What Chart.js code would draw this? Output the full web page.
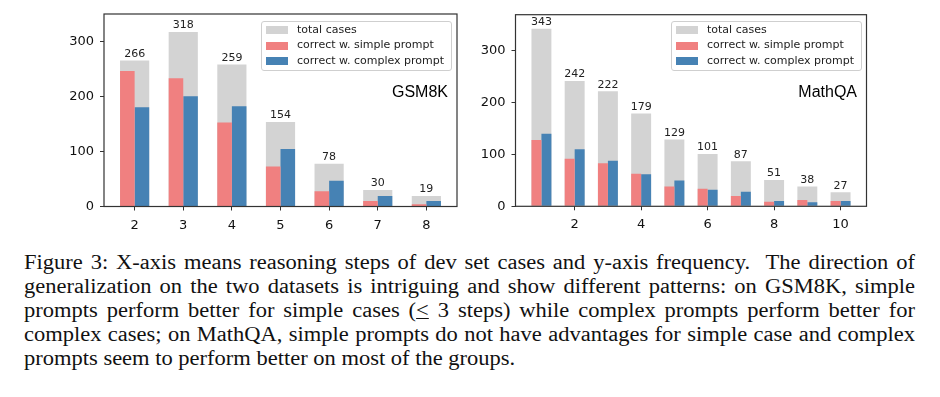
<!DOCTYPE html>
<html>
<head>
<meta charset="utf-8">
<script src="https://cdn.jsdelivr.net/npm/chart.js@4.4.1/dist/chart.umd.min.js"></script>
<style>
  html, body { margin: 0; padding: 0; background: #fff; }
  body { width: 940px; height: 397px; position: relative; overflow: hidden; }
  canvas { position: absolute; top: 0; }
  .tag { position: absolute; font-family: "Liberation Sans", Arial, sans-serif; font-size: 16px; line-height: 16px; color: #000; text-align: right; width: 120px; }
  .legend { position: absolute; border: 1px solid #cfcfcf; border-radius: 3px; background: rgba(255,255,255,0.85); box-sizing: border-box; }
  .legend .sw { position: absolute; width: 22px; height: 8px; }
  .legend .lt { position: absolute; font-family: "DejaVu Sans", sans-serif; font-size: 11px; line-height: 14px; color: #222; white-space: nowrap; }
  .caption { position: absolute; left: 24px; top: 250px; width: 792px; transform: scaleX(1.125); transform-origin: 0 0;
             font-family: "Liberation Serif", "Times New Roman", serif; font-size: 20px; line-height: 24px; color: #111; }
  .caption .j { text-align: justify; text-align-last: justify; }
</style>
</head>
<body>
<canvas id="gsm" width="470" height="235" style="left:0px;width:470px;height:235px"></canvas>
<canvas id="math" width="470" height="235" style="left:470px;width:470px;height:235px"></canvas>
<div class="tag" id="tagGsm" style="left:328px;top:84px;">GSM8K</div>
<div class="tag" id="tagMath" style="left:737px;top:84px;">MathQA</div>
<div class="legend" id="legGsm" style="left:261px;top:21px;width:191px;height:50px;"></div>
<div class="legend" id="legMath" style="left:671px;top:21px;width:191px;height:50px;"></div>
<div class="caption">
  <div class="j">Figure 3: X-axis means reasoning steps of dev set cases and y-axis frequency.&nbsp; The direction of</div>
  <div class="j">generalization on the two datasets is intriguing and show different patterns: on GSM8K, simple</div>
  <div class="j">prompts perform better for simple cases (<u style="text-decoration-thickness:1px;text-underline-offset:1px">&lt;</u> 3 steps) while complex prompts perform better for</div>
  <div class="j">complex cases; on MathQA, simple prompts do not have advantages for simple case and complex</div>
  <div>prompts seem to perform better on most of the groups.</div>
</div>
<script>
// ---------------- data ----------------
const seriesNames = ["total cases", "correct w. simple prompt", "correct w. complex prompt"];
const seriesColors = ["#d3d3d3", "#f08080", "#4682b4"];

const gsmSteps   = [2, 3, 4, 5, 6, 7, 8];
const gsmTotal   = [266, 318, 259, 154, 78, 30, 19];
const gsmSimple  = [247, 234, 153, 73, 28, 10, 4];
const gsmComplex = [181, 201, 183, 105, 47, 19, 10];
const gsmXTicks  = [2, 3, 4, 5, 6, 7, 8];

const mathSteps   = [1, 2, 3, 4, 5, 6, 7, 8, 9, 10];
const mathTotal   = [343, 242, 222, 179, 129, 101, 87, 51, 38, 27];
const mathSimple  = [128, 92, 83, 63, 38, 34, 20, 9, 12, 10];
const mathComplex = [140, 110, 88, 62, 50, 32, 28, 10, 8, 10];
const mathXTicks  = [2, 4, 6, 8, 10];

const yTicks = [0, 100, 200, 300];

// ---------------- helpers ----------------
const pts = (xs, ys) => xs.map((x, i) => ({ x: x, y: ys[i] }));

const framePlugin = {
  id: 'frame',
  afterDatasetsDraw(chart) {
    const { ctx, chartArea: a } = chart;
    ctx.save();
    ctx.strokeStyle = '#333';
    ctx.lineWidth = 1.2;
    ctx.strokeRect(a.left, a.top, a.right - a.left, a.bottom - a.top);
    ctx.restore();
  }
};

const barLabelPlugin = {
  id: 'barLabels',
  afterDatasetsDraw(chart) {
    const { ctx } = chart;
    const meta = chart.getDatasetMeta(0);
    const ds = chart.data.datasets[0];
    ctx.save();
    ctx.font = '11px "DejaVu Sans"';
    ctx.fillStyle = '#222';
    ctx.textAlign = 'center';
    ctx.textBaseline = 'bottom';
    meta.data.forEach((el, i) => {
      ctx.fillText(String(ds.data[i].y), el.x, el.y - 1);
    });
    ctx.restore();
  }
};

function makeChart(id, steps, total, simple, complex, xTicks, xMin, xMax, yMax, geom) {
  const tickFont = { family: 'DejaVu Sans', size: 13 };
  return new Chart(document.getElementById(id), {
    type: 'bar',
    data: {
      datasets: [
        { label: seriesNames[0], data: pts(steps, total), backgroundColor: seriesColors[0],
          grouped: false, categoryPercentage: 0.6, barPercentage: 1.0, order: 3, borderWidth: 0 },
        { label: seriesNames[1], data: pts(steps, simple), backgroundColor: seriesColors[1],
          categoryPercentage: 0.6, barPercentage: 1.0, order: 1, borderWidth: 0 },
        { label: seriesNames[2], data: pts(steps, complex), backgroundColor: seriesColors[2],
          categoryPercentage: 0.6, barPercentage: 1.0, order: 2, borderWidth: 0 }
      ]
    },
    options: {
      responsive: false,
      animation: false,
      devicePixelRatio: 1,
      layout: { padding: { left: 0, right: geom.padRight, top: geom.padTop, bottom: 0 } },
      plugins: { legend: { display: false }, tooltip: { enabled: false } },
      scales: {
        x: {
          type: 'linear', min: xMin, max: xMax, offset: false,
          grid: { display: true, drawOnChartArea: false, drawTicks: true, tickLength: 4, tickColor: '#333', offset: false, lineWidth: 1 },
          border: { display: false },
          ticks: { font: tickFont, color: '#111', padding: 7, autoSkip: false, maxRotation: 0,
                   callback: v => String(v) },
          afterBuildTicks: s => { s.ticks = xTicks.map(v => ({ value: v })); },
          afterFit: s => { s.height = geom.xHeight; }
        },
        y: {
          type: 'linear', min: 0, max: yMax,
          grid: { display: true, drawOnChartArea: false, drawTicks: true, tickLength: 4, tickColor: '#333', lineWidth: 1 },
          border: { display: false },
          ticks: { font: tickFont, color: '#111', padding: 6, callback: v => String(v) },
          afterBuildTicks: s => { s.ticks = yTicks.map(v => ({ value: v })); },
          afterFit: s => { s.width = geom.yWidth; }
        }
      }
    },
    plugins: [framePlugin, barLabelPlugin]
  });
}

makeChart('gsm', gsmSteps, gsmTotal, gsmSimple, gsmComplex, gsmXTicks, 1.37, 8.63, 351,
  { padRight: 13, padTop: 14, yWidth: 104, xHeight: 28.5 });
makeChart('math', mathSteps, mathTotal, mathSimple, mathComplex, mathXTicks, 0.22, 10.78, 370,
  { padRight: 73.5, padTop: 14.7, yWidth: 45.5, xHeight: 28.7 });

// ---------------- legends ----------------
function buildLegend(id) {
  const box = document.getElementById(id);
  const rowCenters = [9, 24.7, 40.3];
  seriesNames.forEach((name, i) => {
    const sw = document.createElement('div');
    sw.className = 'sw';
    sw.style.left = '4px';
    sw.style.top = (rowCenters[i] - 4 - 1) + 'px';
    sw.style.background = seriesColors[i];
    box.appendChild(sw);
    const t = document.createElement('div');
    t.className = 'lt';
    t.style.left = '35px';
    t.style.top = (rowCenters[i] - 7.3 - 1) + 'px';
    t.textContent = name;
    box.appendChild(t);
  });
}
buildLegend('legGsm');
buildLegend('legMath');
</script>
</body>
</html>
